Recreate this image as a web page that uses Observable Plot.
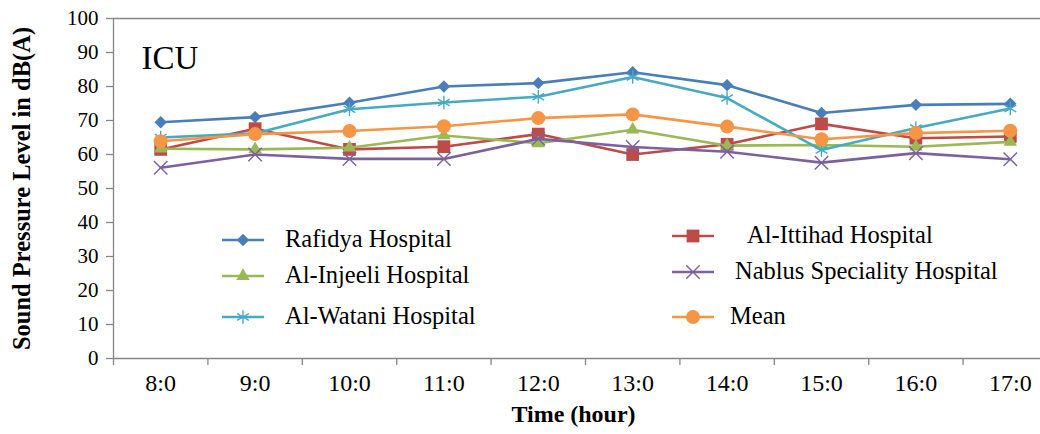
<!DOCTYPE html>
<html><head><meta charset="utf-8">
<script src="https://cdn.jsdelivr.net/npm/d3@7"></script>
<script src="https://cdn.jsdelivr.net/npm/@observablehq/plot@0.6"></script>
<style>
html,body{margin:0;padding:0;background:#fff;overflow:hidden;width:1040px;height:434px}
#wrap{position:relative;width:1040px;height:434px;overflow:hidden}
#legend{position:absolute;left:0;top:0;width:1040px;height:434px;pointer-events:none}
.lg{position:absolute;font-family:'Liberation Serif','Times New Roman',serif;font-size:24.5px;color:#000;white-space:nowrap;line-height:1}
svg text{font-family:'Liberation Serif','Times New Roman',serif}
</style></head><body><div id="wrap"><div id="legend"></div></div>
<script>
const hours = ["8:0","9:0","10:0","11:0","12:0","13:0","14:0","15:0","16:0","17:0"];
const seriesNames = ["Rafidya Hospital","Al-Ittihad Hospital","Al-Injeeli Hospital","Nablus Speciality Hospital","Al-Watani Hospital","Mean"];
const rafidya = [69.5, 71.0, 75.2, 80.0, 81.0, 84.2, 80.4, 72.2, 74.6, 74.9];
const ittihad = [61.5, 67.6, 61.5, 62.3, 66.0, 60.0, 63.0, 69.0, 64.8, 65.3];
const injeeli = [61.7, 61.5, 62.0, 65.6, 63.3, 67.3, 62.6, 62.8, 62.3, 63.7];
const nablus  = [56.1, 60.0, 58.7, 58.7, 64.6, 62.2, 60.8, 57.6, 60.4, 58.6];
const watani  = [65.0, 66.2, 73.3, 75.3, 77.0, 82.8, 76.6, 61.3, 67.8, 73.5];
const mean    = [63.9, 66.0, 66.9, 68.3, 70.7, 71.8, 68.2, 64.5, 66.3, 67.0];
const yTicks = [0,10,20,30,40,50,60,70,80,90,100];

const seriesValues = [rafidya, ittihad, injeeli, nablus, watani, mean];
const colors = ["#4A7EBB","#BE4B48","#98B954","#7D60A0","#46AAC5","#F69545"];
const symbols = ["diamond2","square","triangle","times","asterisk","circle"];
const radii = [5.6, 7.2, 5.0, 6.2, 6.4, 7.0];
const filled = [true, true, true, false, false, true];
const legendPos = [
  {lx: 222, ly: 240, tx: 285},
  {lx: 672, ly: 236, tx: 747},
  {lx: 222, ly: 276, tx: 285},
  {lx: 672, ly: 272, tx: 735},
  {lx: 222, ly: 317, tx: 285},
  {lx: 672, ly: 317, tx: 730}
];

const data = [];
seriesNames.forEach((s, k) => seriesValues[k].forEach((v, i) => data.push({series: s, i, value: v})));
const boundaries = d3.range(-0.5, hours.length, 1);
const axisColor = "#868686";
const serif = "'Liberation Serif','Times New Roman',serif";

const seriesMarks = [];
seriesNames.forEach((s, k) => {
  const rows = data.filter(d => d.series === s);
  seriesMarks.push(Plot.line(rows, {x: "i", y: "value", stroke: colors[k], strokeWidth: 2.6}));
  seriesMarks.push(Plot.dot(rows, {
    x: "i", y: "value", symbol: symbols[k], r: radii[k],
    fill: filled[k] ? colors[k] : "none",
    stroke: filled[k] ? "none" : colors[k],
    strokeWidth: filled[k] ? 0 : 1.4
  }));
});

const plot = Plot.plot({
  width: 1060, height: 434,
  marginLeft: 113, marginRight: 3, marginTop: 18, marginBottom: 76,
  style: {fontFamily: serif, background: "white", maxWidth: "none", overflow: "visible", color: "#000"},
  x: {type: "linear", domain: [-0.5, hours.length - 0.5]},
  y: {domain: [0, 100]},
  marks: [
    Plot.ruleY([100], {stroke: axisColor, strokeWidth: 1.3}),
    Plot.ruleY([0], {stroke: axisColor, strokeWidth: 1.3}),
    Plot.ruleX([-0.5], {stroke: axisColor, strokeWidth: 1.3}),
    Plot.axisY({ticks: yTicks, tickSize: 7, tickPadding: 8, fontSize: 21, fontFamily: serif, label: null, stroke: axisColor, strokeWidth: 1.3, fill: "#000"}),
    Plot.axisX({ticks: boundaries, tickSize: 7, tickFormat: () => "", label: null, stroke: axisColor, strokeWidth: 1.3}),
    Plot.axisX({ticks: hours.map((_, i) => i), tickSize: 0, tickPadding: 15, tickFormat: i => hours[i], fontSize: 24, fontFamily: serif, label: null, fill: "#000"}),
    Plot.text(["Sound Pressure Level in dB(A)"], {frameAnchor: "left", dx: -91, rotate: -90, textAnchor: "middle", fontWeight: "bold", fontSize: 24.5, fontFamily: serif, fill: "#000"}),
    Plot.text(["Time (hour)"], {frameAnchor: "bottom", dx: -12, dy: 63, textAnchor: "middle", fontWeight: "bold", fontSize: 24, fontFamily: serif, fill: "#000"}),
    Plot.text(["ICU"], {frameAnchor: "top-left", dx: 28, dy: 27, lineAnchor: "top", textAnchor: "start", fontSize: 33, fontFamily: serif, fill: "#000"}),
    ...seriesMarks
  ]
});
document.getElementById("wrap").insertBefore(plot, document.getElementById("legend"));

// legend
const legend = d3.select("#legend");
const d3Sym = {diamond2: d3.symbolDiamond2, square: d3.symbolSquare, triangle: d3.symbolTriangle, times: d3.symbolTimes, asterisk: d3.symbolAsterisk, circle: d3.symbolCircle};
const legendSvg = legend.append("svg").attr("width", 1040).attr("height", 434).style("position", "absolute").style("left", 0).style("top", 0);
seriesNames.forEach((s, k) => {
  const p = legendPos[k];
  const g = legendSvg.append("g");
  g.append("line").attr("x1", p.lx).attr("x2", p.lx + 42).attr("y1", p.ly).attr("y2", p.ly)
    .attr("stroke", colors[k]).attr("stroke-width", 2.6);
  g.append("path").attr("transform", `translate(${p.lx + 21},${p.ly})`)
    .attr("d", d3.symbol(d3Sym[symbols[k]], Math.PI * radii[k] * radii[k])())
    .attr("fill", filled[k] ? colors[k] : "none")
    .attr("stroke", filled[k] ? "none" : colors[k])
    .attr("stroke-width", 1.4);
  legend.append("div").attr("class", "lg")
    .style("left", p.tx + "px").style("top", (p.ly - 13) + "px").text(s);
});
</script></body></html>
